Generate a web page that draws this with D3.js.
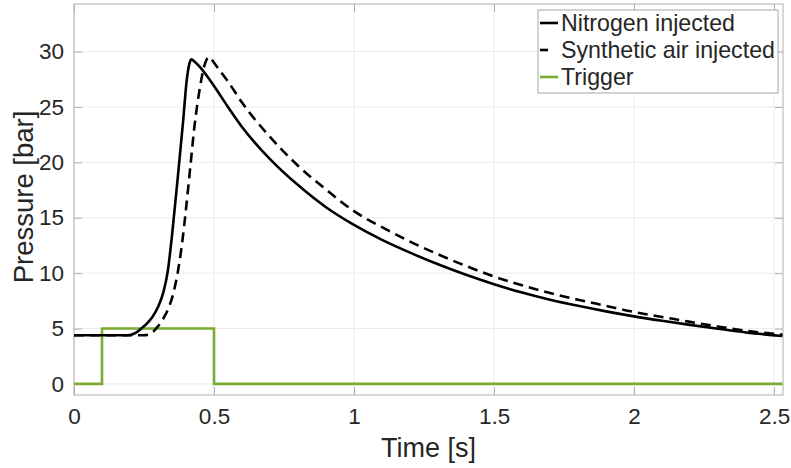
<!DOCTYPE html>
<html>
<head>
<meta charset="utf-8">
<script src="https://cdn.jsdelivr.net/npm/d3@7"></script>
<style>
  html, body { margin: 0; padding: 0; background: #fff; }
  svg { display: block; }
  text { font-family: "Liberation Sans", Arial, Helvetica, sans-serif; fill: #262626; }
</style>
</head>
<body>
<svg id="chart" width="791" height="468"></svg>
<script>
// Pressure traces (time in s, pressure in bar)
const nitrogenTime = [0, 0.1, 0.18, 0.2, 0.22, 0.24, 0.26, 0.28, 0.3, 0.32, 0.335, 0.35, 0.37, 0.39, 0.402, 0.412, 0.42, 0.43, 0.45, 0.5, 0.55, 0.6, 0.7, 0.8, 0.9, 1.0, 1.1, 1.2, 1.3, 1.4, 1.5, 1.6, 1.7, 1.8, 1.9, 2.0, 2.1, 2.2, 2.3, 2.4, 2.53];
const nitrogenPressure = [4.4, 4.4, 4.4, 4.42, 4.6, 5.0, 5.45, 6.05, 6.95, 8.35, 10.2, 13.4, 18.5, 23.8, 27.3, 28.9, 29.3, 29.1, 28.6, 26.9, 25.0, 23.2, 20.3, 17.95, 15.95, 14.35, 13.0, 11.85, 10.8, 9.85, 9.0, 8.25, 7.6, 7.05, 6.55, 6.1, 5.7, 5.33, 4.98, 4.65, 4.33];

const airTime = [0, 0.1, 0.2, 0.25, 0.265, 0.28, 0.3, 0.32, 0.34, 0.355, 0.37, 0.385, 0.4, 0.415, 0.43, 0.45, 0.465, 0.475, 0.482, 0.49, 0.5, 0.55, 0.6, 0.7, 0.8, 0.9, 1.0, 1.1, 1.2, 1.3, 1.4, 1.5, 1.6, 1.7, 1.8, 1.9, 2.0, 2.1, 2.2, 2.3, 2.4, 2.53];
const airPressure = [4.4, 4.4, 4.4, 4.4, 4.45, 4.65, 5.2, 5.95, 7.0, 8.2, 10.0, 12.5, 15.8, 19.5, 23.2, 26.8, 28.7, 29.35, 29.5, 29.35, 29.0, 27.3, 25.4, 22.3, 19.7, 17.55, 15.6, 14.15, 12.85, 11.7, 10.65, 9.7, 8.9, 8.2, 7.6, 7.05, 6.5, 6.05, 5.6, 5.18, 4.8, 4.45];

// Trigger signal (step)
const triggerTime = [0, 0.1, 0.1, 0.5, 0.5, 2.53];
const triggerLevel = [0, 0, 5, 5, 0, 0];

// Axis ticks
const xTicks = [0, 0.5, 1, 1.5, 2, 2.5];
const xTickLabels = ["0", "0.5", "1", "1.5", "2", "2.5"];
const yTicks = [0, 5, 10, 15, 20, 25, 30];
const yTickLabels = ["0", "5", "10", "15", "20", "25", "30"];

const seriesNames = ["Nitrogen injected", "Synthetic air injected", "Trigger"];

const plot = { left: 74, right: 783, top: 4, bottom: 395 };
const svg = d3.select("#chart");

const x = d3.scaleLinear().domain([0, 2.532]).range([plot.left, plot.right]);
const y = d3.scaleLinear().domain([-1, 34.3]).range([plot.bottom, plot.top]);

const axisColor = "#b0b0b0";
const gridColor = "#ebebeb";
const green = "#77ac30";

svg.append("defs").append("clipPath").attr("id", "plotClip")
  .append("rect")
  .attr("x", plot.left).attr("y", plot.top)
  .attr("width", plot.right - plot.left).attr("height", plot.bottom - plot.top);

// grid
const grid = svg.append("g");
grid.selectAll("line.vx").data(xTicks).join("line")
  .attr("x1", d => x(d)).attr("x2", d => x(d))
  .attr("y1", plot.top).attr("y2", plot.bottom)
  .attr("stroke", gridColor).attr("stroke-width", 1);
grid.selectAll("line.hy").data(yTicks).join("line")
  .attr("x1", plot.left).attr("x2", plot.right)
  .attr("y1", d => y(d)).attr("y2", d => y(d))
  .attr("stroke", gridColor).attr("stroke-width", 1);

// axes with inward ticks, mirrored on top/right
const tickLen = 8;
const xAxis = d3.axisBottom(x).tickValues(xTicks).tickSize(-tickLen).tickPadding(22)
  .tickFormat((d, i) => xTickLabels[i]);
const gx = svg.append("g").attr("transform", `translate(0,${plot.bottom})`).call(xAxis);
const yAxis = d3.axisLeft(y).tickValues(yTicks).tickSize(-tickLen).tickPadding(10)
  .tickFormat((d, i) => yTickLabels[i]);
const gy = svg.append("g").attr("transform", `translate(${plot.left},0)`).call(yAxis);
const gxTop = svg.append("g").attr("transform", `translate(0,${plot.top})`)
  .call(d3.axisTop(x).tickValues(xTicks).tickSize(-tickLen).tickFormat(""));
const gyRight = svg.append("g").attr("transform", `translate(${plot.right},0)`)
  .call(d3.axisRight(y).tickValues(yTicks).tickSize(-tickLen).tickFormat(""));

[gx, gy, gxTop, gyRight].forEach(g => {
  g.select(".domain").remove();
  g.selectAll(".tick line").attr("stroke", axisColor);
  g.selectAll(".tick text").attr("font-size", 22.5).attr("fill", "#262626")
    .attr("font-family", "'Liberation Sans', Arial, sans-serif");
});
gx.selectAll(".tick text").attr("dy", "0.32em");

// box
svg.append("rect")
  .attr("x", plot.left).attr("y", plot.top)
  .attr("width", plot.right - plot.left).attr("height", plot.bottom - plot.top)
  .attr("fill", "none").attr("stroke", axisColor).attr("stroke-width", 1);

// series
const lines = svg.append("g").attr("clip-path", "url(#plotClip)");
const smooth = d3.line().x(d => x(d[0])).y(d => y(d[1])).curve(d3.curveMonotoneX);
const step = d3.line().x(d => x(d[0])).y(d => y(d[1]));

lines.append("path")
  .datum(triggerTime.map((t, i) => [t, triggerLevel[i]]))
  .attr("d", step).attr("fill", "none").attr("stroke", green).attr("stroke-width", 2.6);

lines.append("path")
  .datum(airTime.map((t, i) => [t, airPressure[i]]))
  .attr("d", smooth).attr("fill", "none").attr("stroke", "#000").attr("stroke-width", 2.6)
  .attr("stroke-dasharray", "10,6");

lines.append("path")
  .datum(nitrogenTime.map((t, i) => [t, nitrogenPressure[i]]))
  .attr("d", smooth).attr("fill", "none").attr("stroke", "#000").attr("stroke-width", 2.6)
  .attr("stroke-linejoin", "round");

// axis labels
svg.append("text")
  .attr("x", (plot.left + plot.right) / 2).attr("y", 457)
  .attr("text-anchor", "middle").attr("font-size", 27)
  .text("Time [s]");
svg.append("text")
  .attr("transform", "translate(33,197) rotate(-90)")
  .attr("text-anchor", "middle").attr("font-size", 27.5)
  .text("Pressure [bar]");

// legend
const legend = svg.append("g");
legend.append("rect")
  .attr("x", 538).attr("y", 10).attr("width", 240).attr("height", 83)
  .attr("fill", "#fff").attr("stroke", "#a6a6a6").attr("stroke-width", 1);
const legendItems = [
  { name: seriesNames[0], color: "#000", dash: null },
  { name: seriesNames[1], color: "#000", dash: "8,20" },
  { name: seriesNames[2], color: green, dash: null }
];
const rowY = [23, 50, 77];
legendItems.forEach((d, i) => {
  legend.append("line")
    .attr("x1", 540).attr("x2", 558).attr("y1", rowY[i]).attr("y2", rowY[i])
    .attr("stroke", d.color).attr("stroke-width", 2.6)
    .attr("stroke-dasharray", d.dash);
  legend.append("text")
    .attr("x", 561).attr("y", rowY[i]).attr("dy", "0.35em")
    .attr("font-size", 23.2)
    .text(d.name);
});
</script>
</body>
</html>
